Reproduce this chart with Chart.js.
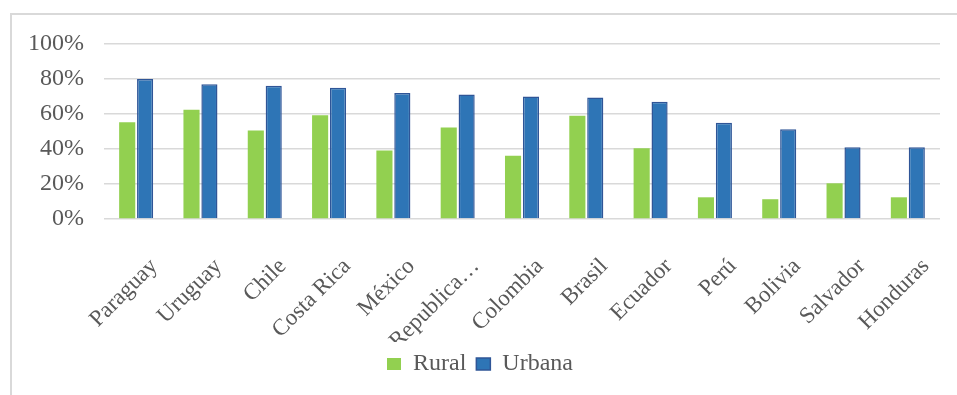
<!DOCTYPE html>
<html lang="es">
<head>
<meta charset="utf-8">
<title>Rural / Urbana</title>
<script src="https://cdn.jsdelivr.net/npm/chart.js@4"></script>
<style>
  html, body { margin: 0; padding: 0; background: #fff; overflow: hidden; }
  .wrap { position: relative; width: 957px; height: 395px; }
  /* marco gris del gráfico (recortado a la derecha y abajo) */
  .frame {
    position: absolute; left: 10px; top: 13px; width: 960px; height: 400px;
    border-left: 2px solid #d9d9d9; border-top: 2px solid #d9d9d9;
  }
  canvas { position: absolute; left: 0; top: 0; }
</style>
</head>
<body>
<div class="wrap">
  <div class="frame"></div>
  <canvas id="chart" width="957" height="395"></canvas>
</div>
<script>
const paises = ["Paraguay", "Uruguay", "Chile", "Costa Rica", "México", "Republica…",
  "Colombia", "Brasil", "Ecuador", "Perú", "Bolivia", "Salvador", "Honduras"];
const rural = [55.3, 62.4, 50.6, 59.3, 39.1, 52.3, 36.2, 59, 40.4, 12.4, 11.3, 20.4, 12.4];
const urbana = [80, 77, 76.2, 75, 72, 71.2, 70, 69.4, 67, 55, 51.3, 41, 41];
const yTicks = [0, 20, 40, 60, 80, 100];

const GRIS = "#595959";
const FUENTE = "'Liberation Serif', 'Times New Roman', serif";

new Chart(document.getElementById("chart"), {
  type: "bar",
  data: {
    labels: paises,
    datasets: [
      {
        label: "Rural",
        data: rural,
        backgroundColor: "#92d050",
        borderWidth: 0,
        categoryPercentage: 0.557,
        barPercentage: 0.9,
      },
      {
        label: "Urbana",
        data: urbana,
        backgroundColor: "#2e75b6",
        borderColor: "#2f5597",
        borderWidth: 1.5,
        categoryPercentage: 0.557,
        barPercentage: 0.9,
      },
    ],
  },
  options: {
    responsive: false,
    animation: false,
    layout: { padding: { left: 20, right: 17, top: 44, bottom: 9 } },
    plugins: {
      tooltip: { enabled: false },
      legend: {
        position: "bottom",
        labels: {
          color: GRIS,
          font: { family: FUENTE, size: 24 },
          boxWidth: 14,
          boxHeight: 12,
          padding: 10,
        },
      },
    },
    scales: {
      x: {
        grid: { display: false, drawTicks: false },
        border: { display: false },
        ticks: {
          color: GRIS,
          font: { family: FUENTE, size: 23 },
          minRotation: 45,
          maxRotation: 45,
          autoSkip: false,
          padding: 34,
          labelOffset: 18,
        },
        afterFit: (s) => {
          s.height = 123;
          s.paddingLeft = 0;
          s.paddingRight = 0;
        },
      },
      y: {
        min: 0,
        max: 100,
        afterBuildTicks: (s) => { s.ticks = yTicks.map(v => ({ value: v })); },
        grid: { color: "#d9d9d9", lineWidth: 1.5, drawTicks: false },
        border: { display: false },
        ticks: {
          color: GRIS,
          font: { family: FUENTE, size: 24 },
          padding: 20,
          callback: (v) => v + "%",
        },
        afterFit: (s) => { s.width = 84; },
      },
    },
  },
});
</script>
</body>
</html>
